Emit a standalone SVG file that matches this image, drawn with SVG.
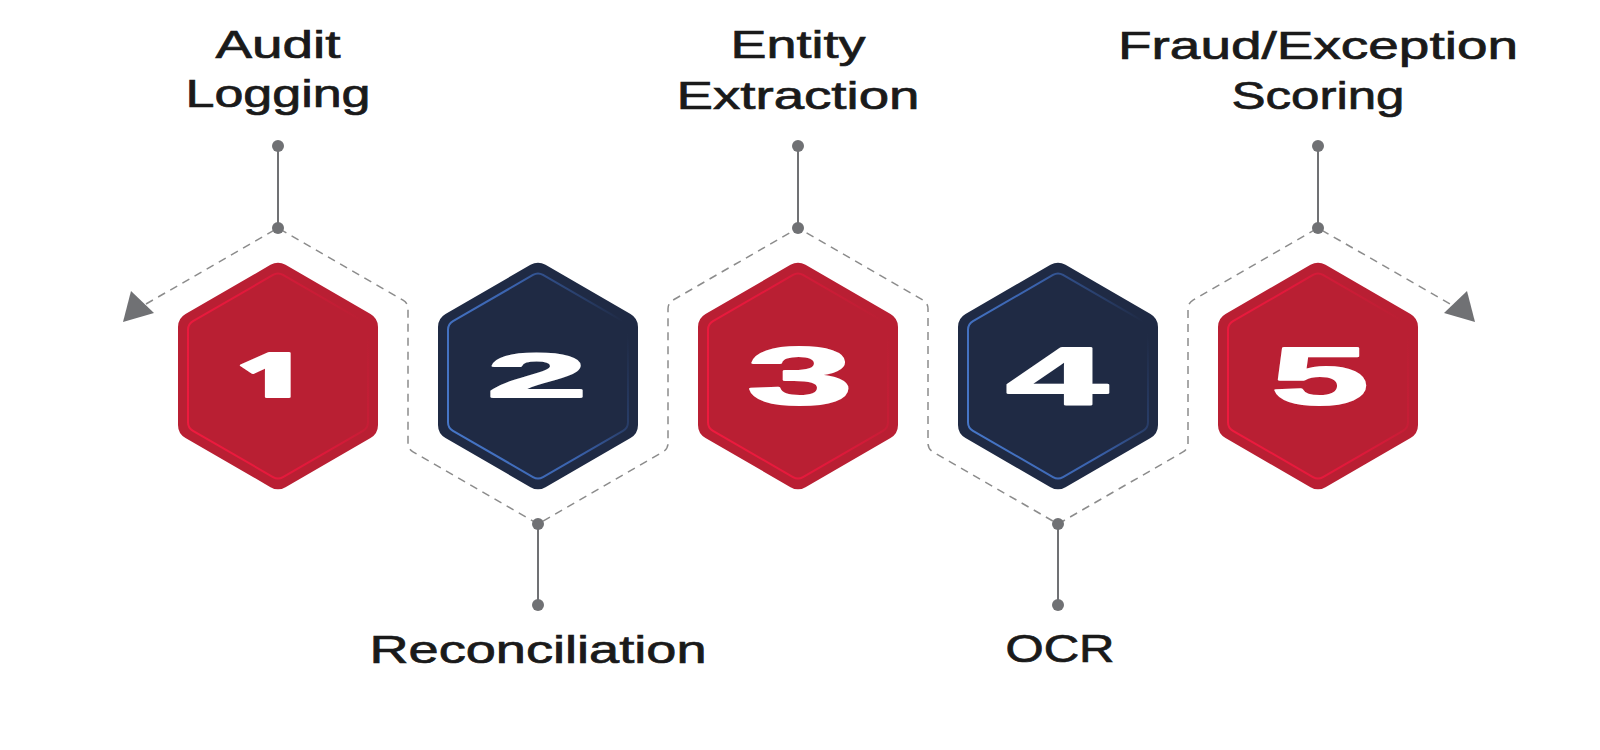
<svg xmlns="http://www.w3.org/2000/svg" xmlns:xlink="http://www.w3.org/1999/xlink" width="1600" height="750" viewBox="0 0 1600 750">
<style>
.red{fill:#b91f33}
.navy{fill:#1f2a44}
.redin{fill:none;stroke:url(#gRed);stroke-width:2}
.navyin{fill:none;stroke:url(#gBlue);stroke-width:2}
.num{font-family:"Liberation Sans",Arial,sans-serif;font-weight:700;fill:#ffffff;stroke:#ffffff;stroke-width:2;stroke-linejoin:round;text-anchor:middle}
text.one{font-family:"Open Sans",Inter,sans-serif;font-weight:800}
.lbl{font-family:"Liberation Sans",Arial,sans-serif;font-size:38px;font-weight:400;fill:#1a1a1a;stroke:#1a1a1a;stroke-width:0.7;text-anchor:middle}
.dash{fill:none;stroke:#8c8c8c;stroke-width:1.5;stroke-dasharray:8 6}
.solid{stroke:#707174;stroke-width:2}
.dot{fill:#707174}
.arrow{fill:#707174}
</style>
<defs>
<linearGradient id="gRed" x1="0" y1="0.7" x2="1" y2="0.3">
<stop offset="0" stop-color="#ee1a3e"/>
<stop offset="0.55" stop-color="#e0183a"/>
<stop offset="1" stop-color="#b91f33"/>
</linearGradient>
<linearGradient id="gBlue" x1="0" y1="0.7" x2="1" y2="0.3">
<stop offset="0" stop-color="#4676c8"/>
<stop offset="0.55" stop-color="#3a62ad"/>
<stop offset="1" stop-color="#1f2a44"/>
</linearGradient>
<path id="hex" d="M-7.5,-111.14 A15,15 0 0 1 7.5,-111.14 L92.5,-62.07 A15,15 0 0 1 100,-49.08 L100,49.08 A15,15 0 0 1 92.5,62.07 L7.5,111.14 A15,15 0 0 1 -7.5,111.14 L-92.5,62.07 A15,15 0 0 1 -100,49.08 L-100,-49.08 A15,15 0 0 1 -92.5,-62.07 Z"/>
<path id="hexin" d="M-5,-101.03 A10,10 0 0 1 5,-101.03 L85,-54.85 A10,10 0 0 1 90,-46.19 L90,46.19 A10,10 0 0 1 85,54.85 L5,101.03 A10,10 0 0 1 -5,101.03 L-85,54.85 A10,10 0 0 1 -90,46.19 L-90,-46.19 A10,10 0 0 1 -85,-54.85 Z"/>
</defs>

<g id="connectors">
<path class="dash" d="M146,304 L278,228 L403,300.1 Q408,303 408,308.8 L408,443.2 Q408,449 413,451.9 L538,524 L663,451.9 Q668,449 668,443.2 L668,308.8 Q668,303 673,300.1 L798,228 L923,300.1 Q928,303 928,308.8 L928,443.2 Q928,449 933,451.9 L1058,524 L1183,451.9 Q1188,449 1188,443.2 L1188,308.8 Q1188,303 1193,300.1 L1318,228 L1452,305"/>
<polygon class="arrow" points="123,322 131,291 154,313"/>
<polygon class="arrow" points="1475,322 1467,291 1444,313"/>
<line class="solid" x1="278" y1="146" x2="278" y2="228"/>
<line class="solid" x1="798" y1="146" x2="798" y2="228"/>
<line class="solid" x1="1318" y1="146" x2="1318" y2="228"/>
<line class="solid" x1="538" y1="524" x2="538" y2="605"/>
<line class="solid" x1="1058" y1="524" x2="1058" y2="605"/>
<circle class="dot" cx="278" cy="146" r="6"/>
<circle class="dot" cx="278" cy="228" r="6"/>
<circle class="dot" cx="798" cy="146" r="6"/>
<circle class="dot" cx="798" cy="228" r="6"/>
<circle class="dot" cx="1318" cy="146" r="6"/>
<circle class="dot" cx="1318" cy="228" r="6"/>
<circle class="dot" cx="538" cy="524" r="6"/>
<circle class="dot" cx="538" cy="605" r="6"/>
<circle class="dot" cx="1058" cy="524" r="6"/>
<circle class="dot" cx="1058" cy="605" r="6"/>
</g>

<g id="node1">
<use xlink:href="#hex" href="#hex" class="red" x="278" y="376"/>
<use xlink:href="#hexin" href="#hexin" class="redin" x="278" y="376"/>
<text class="num one" x="270" y="397" font-size="62" textLength="66" lengthAdjust="spacingAndGlyphs">1</text>
<text class="lbl" x="278" y="58" textLength="125" lengthAdjust="spacingAndGlyphs">Audit</text>
<text class="lbl" x="278" y="107" textLength="185" lengthAdjust="spacingAndGlyphs">Logging</text>
</g>

<g id="node2">
<use xlink:href="#hex" href="#hex" class="navy" x="538" y="376"/>
<use xlink:href="#hexin" href="#hexin" class="navyin" x="538" y="376"/>
<text class="num" x="537" y="397" font-size="63" textLength="100" lengthAdjust="spacingAndGlyphs">2</text>
<text class="lbl" x="538" y="663" textLength="337" lengthAdjust="spacingAndGlyphs">Reconciliation</text>
</g>

<g id="node3">
<use xlink:href="#hex" href="#hex" class="red" x="798" y="376"/>
<use xlink:href="#hexin" href="#hexin" class="redin" x="798" y="376"/>
<text class="num" x="800" y="404" font-size="82" textLength="106" lengthAdjust="spacingAndGlyphs">3</text>
<text class="lbl" x="798" y="58" textLength="135" lengthAdjust="spacingAndGlyphs">Entity</text>
<text class="lbl" x="798" y="109" textLength="243" lengthAdjust="spacingAndGlyphs">Extraction</text>
</g>

<g id="node4">
<use xlink:href="#hex" href="#hex" class="navy" x="1058" y="376"/>
<use xlink:href="#hexin" href="#hexin" class="navyin" x="1058" y="376"/>
<text class="num" x="1057" y="404" font-size="82" textLength="102" lengthAdjust="spacingAndGlyphs">4</text>
<text class="lbl" x="1060" y="662" textLength="109" lengthAdjust="spacingAndGlyphs">OCR</text>
</g>

<g id="node5">
<use xlink:href="#hex" href="#hex" class="red" x="1318" y="376"/>
<use xlink:href="#hexin" href="#hexin" class="redin" x="1318" y="376"/>
<text class="num" x="1320" y="404" font-size="82" textLength="98" lengthAdjust="spacingAndGlyphs">5</text>
<text class="lbl" x="1318" y="59" textLength="400" lengthAdjust="spacingAndGlyphs">Fraud/Exception</text>
<text class="lbl" x="1318" y="109" textLength="173" lengthAdjust="spacingAndGlyphs">Scoring</text>
</g>
</svg>
